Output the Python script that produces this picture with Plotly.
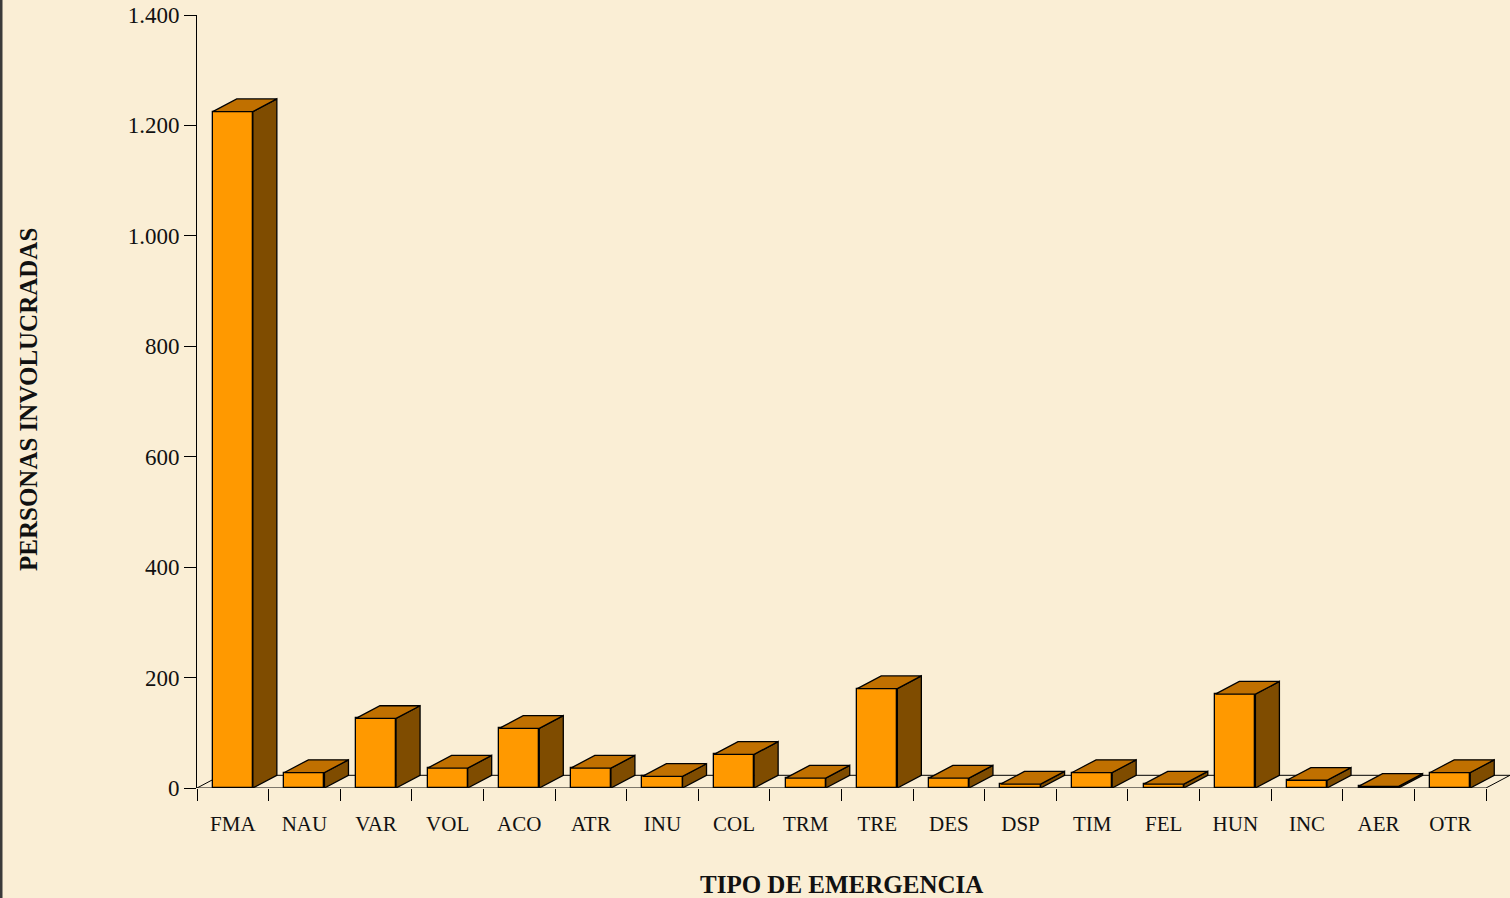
"""Personas involucradas por tipo de emergencia - pseudo-3D bar chart."""

import plotly.graph_objects as go

categories = ["FMA", "NAU", "VAR", "VOL", "ACO", "ATR", "INU", "COL", "TRM",
              "TRE", "DES", "DSP", "TIM", "FEL", "HUN", "INC", "AER", "OTR"]
personas = [1225, 28, 126, 36, 108, 36, 21, 61, 18,
            180, 18, 7, 28, 7, 170, 14, 3, 28]
y_ticks = [0, 200, 400, 600, 800, 1000, 1200, 1400]

FRONT = "#FF9900"
TOP = "#C07000"
SIDE = "#7F4C00"
BG = "#FAEED5"

half_w = 0.28    # half of the front face width (category units)
dx = 0.335       # depth offset along x (category units)
dy = 23          # depth offset along y (data units)

xs = list(range(len(categories)))
n = len(categories)

fig = go.Figure()

# front faces
fig.add_trace(go.Bar(
    x=xs, y=personas, width=2 * half_w,
    marker=dict(color=FRONT, line=dict(color="black", width=1.3)),
    hovertext=categories, showlegend=False,
))

# side and top faces, computed from the values
side_x, side_y, top_x, top_y = [], [], [], []
for i, v in zip(xs, personas):
    r = i + half_w
    l = i - half_w
    side_x += [r, r + dx, r + dx, r, r, None]
    side_y += [0, dy, v + dy, v, 0, None]
    top_x += [l, r, r + dx, l + dx, l, None]
    top_y += [v, v, v + dy, v + dy, v, None]

fig.add_trace(go.Scatter(
    x=side_x, y=side_y, mode="lines", fill="toself", fillcolor=SIDE,
    line=dict(color="black", width=1.3), hoverinfo="skip", showlegend=False,
))
fig.add_trace(go.Scatter(
    x=top_x, y=top_y, mode="lines", fill="toself", fillcolor=TOP,
    line=dict(color="black", width=1.3), hoverinfo="skip", showlegend=False,
))

# floor outline (below the bars)
x0, x1 = -0.5, n - 0.5
floor = [(x0, 0, x1, 0), (x0 + dx, dy, x1 + dx, dy),
         (x0, 0, x0 + dx, dy), (x1, 0, x1 + dx, dy)]
shapes = [dict(type="line", xref="x", yref="y", x0=a, y0=b, x1=c, y1=d,
               line=dict(color="black", width=1), layer="below")
          for a, b, c, d in floor]
# dark edge at the left border of the picture
shapes.append(dict(type="line", xref="paper", yref="paper",
                   x0=-196 / 1313, x1=-196 / 1313, y0=-110 / 773, y1=1 + 15 / 773,
                   line=dict(color="#3a3a3a", width=3)))

fig.update_layout(
    width=1510, height=898,
    margin=dict(l=197, r=0, t=15, b=110),
    paper_bgcolor=BG, plot_bgcolor=BG,
    separators=",.",
    font=dict(family="Liberation Serif, Times New Roman, serif", size=20, color="#111"),
    bargap=0,
    shapes=shapes,
    xaxis=dict(
        range=[x0, x1 + dx], showgrid=False, zeroline=False, showline=False,
        tickmode="array", tickvals=xs, ticktext=categories,
        ticks="outside", ticklen=12, tickcolor="rgba(0,0,0,0)",
        ticklabelstandoff=5, tickfont=dict(size=21),
        minor=dict(tickmode="array", tickvals=[i - 0.5 for i in range(n + 1)],
                   ticks="outside", ticklen=12, tickcolor="black", tickwidth=1,
                   showgrid=False),
        fixedrange=True,
    ),
    yaxis=dict(
        range=[0, 1400], showgrid=False, zeroline=False,
        showline=True, linecolor="black", linewidth=1,
        tickmode="array", tickvals=y_ticks, tickformat=",d",
        ticks="outside", ticklen=12, tickcolor="black", tickwidth=1,
        tickfont=dict(size=23),
        fixedrange=True,
    ),
    annotations=[
        dict(text="<b>PERSONAS INVOLUCRADAS</b>", textangle=-90,
             xref="paper", yref="paper", x=(28 - 197) / 1313, y=(788 - 400) / 773,
             xanchor="center", yanchor="middle", showarrow=False,
             font=dict(size=25, color="#111")),
        dict(text="<b>TIPO DE EMERGENCIA</b>",
             xref="x", yref="paper", x=(x0 + x1) / 2, y=-(884 - 788) / 773,
             xanchor="center", yanchor="middle", showarrow=False,
             font=dict(size=25, color="#111")),
    ],
)

# the page's default body margin would shift the figure by 8 px
fig.write_html(
    "out.html",
    config={"displayModeBar": False},
    post_script="document.body.style.margin='0';document.body.style.overflow='hidden';",
)
